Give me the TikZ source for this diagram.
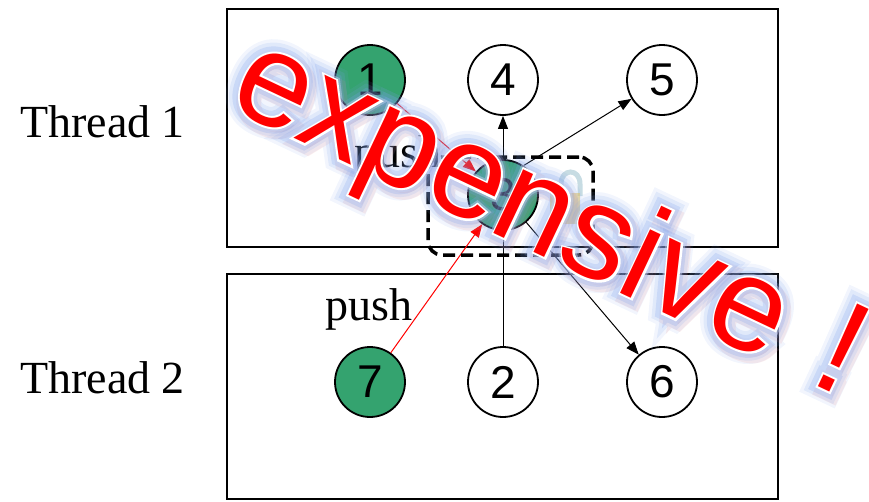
\documentclass[tikz,border=0pt]{standalone}
\usepackage{fontspec}
\setmainfont{Liberation Serif}
\newfontfamily\numfont{Liberation Sans}
\newfontfamily\wordfont{Liberation Sans}
% emboldened copies of the word font, used as outline, shadow and glow layers
\newfontfamily\haloA[FakeBold=20]{Liberation Sans}
\newfontfamily\haloB[FakeBold=15]{Liberation Sans}
\newfontfamily\haloC[FakeBold=10]{Liberation Sans}
\newfontfamily\haloD[FakeBold=6]{Liberation Sans}
\newfontfamily\rimfont[FakeBold=3]{Liberation Sans}
\usetikzlibrary{arrows.meta}

\definecolor{nodegreen}{RGB}{52,163,111}
\definecolor{glowblue}{RGB}{125,160,235}
\definecolor{glowpale}{RGB}{195,210,245}
\definecolor{alertred}{RGB}{255,0,0}
\definecolor{shadowpink}{RGB}{235,120,110}
\definecolor{shacklegray}{RGB}{175,205,215}
\definecolor{lockgold}{RGB}{235,200,95}

\tikzset{
  vertex/.style={circle, draw, line width=1.8pt, minimum size=70pt, inner sep=0pt,
                 fill=white, font=\numfont\fontsize{46}{46}\selectfont},
  hot/.style={vertex, fill=nodegreen},
  threadbox/.style={draw, line width=2pt, inner sep=0pt},
  caption/.style={inner sep=0pt, anchor=base west, font=\fontsize{46}{46}\selectfont},
  link/.style={line width=1pt, -{Triangle[length=13pt,width=10pt]}},
  redlink/.style={link, alertred},
  critical/.style={draw, dashed, line width=3.5pt, dash pattern=on 12pt off 6pt,
                   rounded corners=14pt, inner sep=0pt},
  wordart/.style={inner sep=0pt, anchor=base west, rotate=-25.3},
}
\newcommand\wordsize{\fontsize{133}{133}\selectfont}
\newcommand\warnword{expensive\hspace{45pt}!}

\begin{document}
\begin{tikzpicture}[x=1pt, y=-1pt]
\useasboundingbox (0,0) rectangle (869,501);

% thread regions
\node[threadbox, minimum width=551pt, minimum height=238pt] (t1) at (502.5,128) {};
\node[threadbox, minimum width=551pt, minimum height=225pt] (t2) at (502.5,386.5) {};

\node[caption] (lab1) at (20,137) {Thread 1};
\node[caption] (lab2) at (20,393) {Thread 2};
\node[caption] (push1) at (354,167) {push};
\node[caption] (push2) at (325,320) {push};

% task nodes
\node[hot]    (n1) at (370,80)  {1};
\node[vertex] (n4) at (503,80)  {4};
\node[vertex] (n5) at (662,80)  {5};
\node[hot]    (n7) at (370,382) {7};
\node[vertex] (n2) at (503,382) {2};
\node[vertex] (n6) at (662,382) {6};

\draw[link] (n2) -- (n4);
\node[hot] (n3) at (503,195) {3};

\draw[link] (n3.55) -- (n5);
\draw[link] (n3) -- (n6);
\draw[redlink] (n1) -- (n3);
\draw[redlink] (n7) -- (n3);

% locked region around node 3
\node[critical, minimum width=165pt, minimum height=98pt] (crit) at (510.5,206) {};
\draw[shacklegray, line width=5pt, opacity=0.7]
  (561,196) -- (561,184) .. controls (561,168) and (580,168) .. (580,184) -- (580,196);
\fill[lockgold, opacity=0.6] (550,193) rectangle (580,224);

% glowing warning word: soft shadow, halo, white rim, red letters
\begin{scope}[opacity=0.12]
  \node[wordart, text=shadowpink, font=\haloC\wordsize] (sh) at (228,111) {\warnword};
\end{scope}
\begin{scope}[opacity=0.1]
  \node[wordart, text=glowblue, font=\haloA\wordsize] (g1) at (224,105) {\warnword};
\end{scope}
\begin{scope}[opacity=0.15]
  \node[wordart, text=glowblue, font=\haloB\wordsize] (g2) at (224,105) {\warnword};
\end{scope}
\begin{scope}[opacity=0.22]
  \node[wordart, text=glowblue, font=\haloC\wordsize] (g3) at (224,105.5) {\warnword};
\end{scope}
\begin{scope}[opacity=0.45]
  \node[wordart, text=glowpale, font=\haloD\wordsize] (g4) at (225,106) {\warnword};
\end{scope}
\node[wordart, text=white, font=\rimfont\wordsize] (rim) at (225,106) {\warnword};
\node[wordart, text=alertred, font=\wordfont\wordsize] (word) at (225,106) {\warnword};
\end{tikzpicture}
\end{document}
